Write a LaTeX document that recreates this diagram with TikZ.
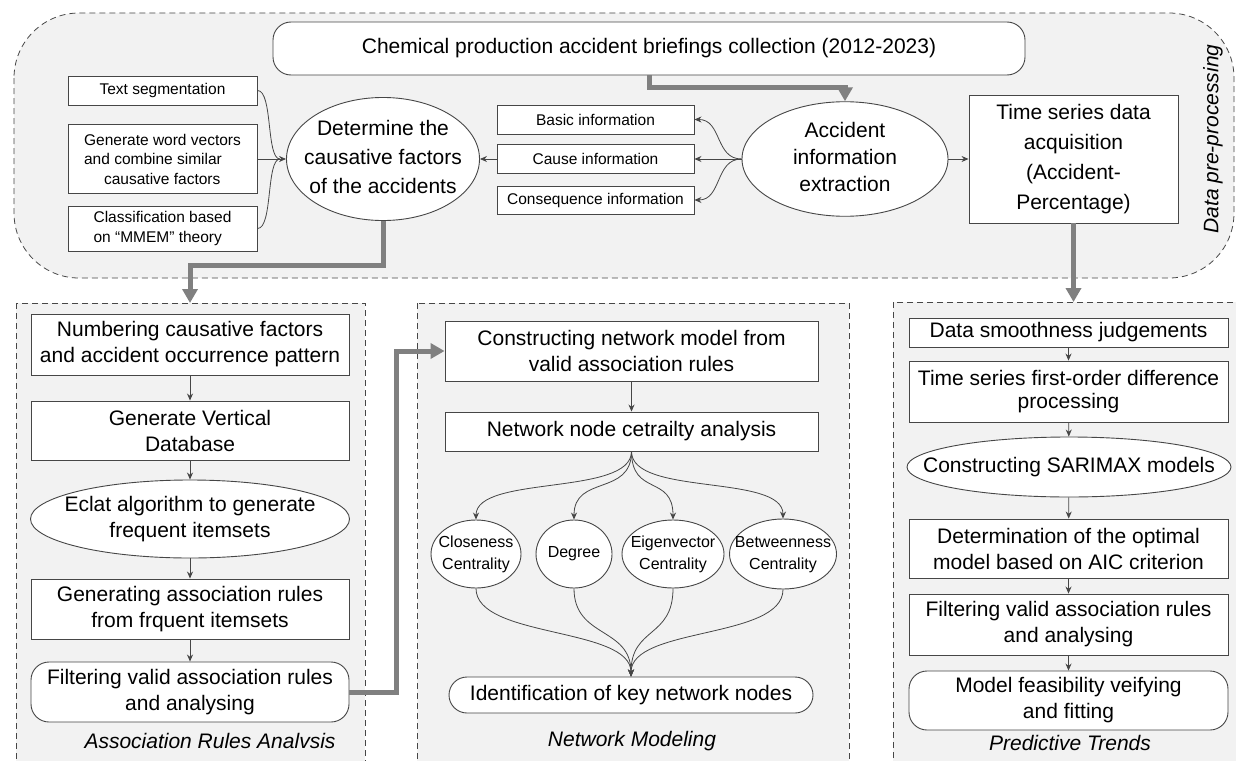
\documentclass[tikz,border=0pt]{standalone}
\usepackage{fontspec}
\setmainfont{Liberation Sans}
\usepackage{tikz}
\usetikzlibrary{shapes.geometric, arrows.meta, positioning, calc}
\definecolor{linegray}{RGB}{70,70,70}
\definecolor{arrowgray}{RGB}{128,128,128}
\definecolor{panelfill}{RGB}{242,242,242}
\newcommand{\bigfont}{\fontsize{21}{26}\selectfont}
\newcommand{\smallfont}{\fontsize{15.5}{19.5}\selectfont}
\newcommand{\centfont}{\fontsize{16}{22}\selectfont}
\newcommand{\elltext}[1]{\makebox[0pt]{\begin{tabular}{@{}c@{}}#1\end{tabular}}}

\begin{document}
\begin{tikzpicture}[x=1pt, y=-1pt,
    sz/.style 2 args={minimum width=#1pt, minimum height=#2pt},
    box/.style={rectangle, draw=linegray, fill=white, line width=0.9pt, inner sep=0pt, align=center, font=\bigfont},
    sbox/.style={box, font=\smallfont},
    rbox/.style={box, rounded corners=18pt},
    ell/.style={ellipse, draw=linegray, fill=white, line width=0.9pt, inner sep=0pt, font=\bigfont},
    panel/.style={draw=linegray, line width=0.8pt, dash pattern=on 6pt off 4pt, fill=panelfill},
    title/.style={font=\bigfont\itshape},
    flow/.style={-{Stealth[length=7pt, width=6pt]}, line width=0.8pt, draw=linegray},
    link/.style={line width=0.8pt, draw=linegray},
    bigarrow/.style={-{Triangle[length=14pt, width=15pt]}, line width=5pt, draw=arrowgray},
]
    \clip (0,0) rectangle (1236,760);

    % stage frames
    \draw[panel, rounded corners=65pt] (14,13) rectangle (1234,278);
    \draw[panel] (16,303) rectangle (365,790);
    \draw[panel] (417,303) rectangle (849,790);
    \draw[panel] (893,302) rectangle (1260,790);

    % data pre-processing
    \node[rbox, sz={752}{53}] (brief) at (649,48.5) {Chemical production accident briefings collection (2012-2023)};
    \node[sbox, sz={189}{29}] (seg) at (162.5,90.5) {Text segmentation};
    \node[sbox, sz={189}{69}, align=left] (vec) at (162.5,159) {Generate word vectors\\and combine similar\\\hspace{20pt}causative factors};
    \node[sbox, sz={189}{45}, align=left] (mmem) at (162.5,228.5) {Classification based\\on “MMEM” theory};
    \node[ell, sz={193}{118}, font=\fontsize{21}{29}\selectfont] (cause) at (383,159) {\elltext{Determine the\\causative factors\\of the accidents}};
    \node[sbox, sz={197}{29}] (basic) at (595.5,119.5) {Basic information};
    \node[sbox, sz={197}{29}] (causeinfo) at (595.5,159) {Cause information};
    \node[sbox, sz={197}{28}] (conseq) at (595.5,200) {Consequence information};
    \node[ell, sz={206}{90}, font=\fontsize{21}{27}\selectfont] (extract) at (845,159) {\elltext{Accident\\information\\extraction}};
    \node[box, sz={209}{128}, font=\fontsize{21}{30}\selectfont] (series) at (1073.5,159) {Time series data\\acquisition\\(Accident-\\Percentage)};
    \node[title, rotate=90] (pretitle) at (1213,139) {Data pre-processing};

    \coordinate (join) at (280,159);
    \draw[link] (seg.east) .. controls (273,90.5) and (266,159) .. (join);
    \draw[link] (mmem.east) .. controls (273,228.5) and (266,159) .. (join);
    \draw[flow] (vec.east) -- (cause.west);
    \draw[flow] (extract.west) .. controls (715,159) and (722,119.5) .. (basic.east);
    \draw[flow] (extract.west) -- (causeinfo.east);
    \draw[flow] (extract.west) .. controls (715,159) and (722,200) .. (conseq.east);
    \draw[flow] (causeinfo.west) -- (cause.east);
    \draw[flow] (extract.east) -- (series.west);

    \coordinate (assoctop) at (190,303);
    \coordinate (predtop) at (1073.5,302);
    \draw[bigarrow] (brief.south) -- ++(0,12) -| (extract.north);
    \draw[bigarrow] (cause.south) -- ++(0,45) -| (assoctop);
    \draw[bigarrow] (series.south) -- (predtop);

    % association rules
    \node[box, sz={318}{61}] (number) at (190,344.5) {Numbering causative factors\\and accident occurrence pattern};
    \node[box, sz={318}{59}] (vertical) at (190,430.5) {Generate Vertical\\Database};
    \node[ell, sz={319}{78}] (eclat) at (190,519) {\elltext{Eclat algorithm to generate\\frequent itemsets}};
    \node[box, sz={318}{60}] (rules) at (190,609) {Generating association rules\\from frquent itemsets};
    \node[rbox, sz={318}{60}] (filter) at (190,692) {Filtering valid association rules\\and analysing};
    \node[title] (assoctitle) at (210,741) {Association Rules Analvsis};
    \draw[flow] (number) -- (vertical);
    \draw[flow] (vertical) -- (eclat);
    \draw[flow] (eclat) -- (rules);
    \draw[flow] (rules) -- (filter);

    % network modeling
    \node[box, sz={373}{60}] (build) at (631.5,351) {Constructing network model from\\valid association rules};
    \node[box, sz={373}{39}] (centr) at (631.5,431.5) {Network node cetrailty analysis};
    \node[ell, sz={90}{68}, font=\centfont] (close) at (476,554) {\elltext{Closeness\\Centrality}};
    \node[ell, sz={76}{68}, font=\centfont] (degree) at (574,554) {Degree};
    \node[ell, sz={102}{68}, font=\centfont] (eigen) at (673,554) {\elltext{Eigenvector\\Centrality}};
    \node[ell, sz={107}{70}, font=\centfont] (betw) at (783,554) {\elltext{Betweenness\\Centrality}};
    \node[rbox, sz={364}{36}] (keynodes) at (631,695) {Identification of key network nodes};
    \node[title] (nettitle) at (632,741) {Network Modeling};
    \draw[bigarrow] (filter.east) -- ++(47,0) |- (build.west);
    \draw[flow] (build) -- (centr);
    \foreach \c in {close,degree,eigen,betw} {
        \draw[flow] (centr.south) .. controls ($(centr.south)+(0,45)$) and ($(\c.north)+(0,-45)$) .. (\c.north);
        \draw[flow] (\c.south) .. controls ($(\c.south)+(0,50)$) and ($(keynodes.north)+(0,-50)$) .. (keynodes.north);
    }

    % predictive trends
    \node[box, sz={319}{29}] (smooth) at (1068.5,332.5) {Data smoothness judgements};
    \node[box, sz={319}{61}, font=\fontsize{21}{23}\selectfont] (diff) at (1068.5,391.5) {Time series first-order difference\\processing};
    \node[ell, sz={324}{60}] (sarimax) at (1069,467) {\elltext{Constructing SARIMAX models}};
    \node[box, sz={319}{59}] (aic) at (1068.5,548.5) {Determination of the optimal\\model based on AIC criterion};
    \node[box, sz={319}{61}] (valid) at (1068.5,624.5) {Filtering valid association rules\\and analysing};
    \node[rbox, sz={319}{59}] (fit) at (1068.5,700.5) {Model feasibility veifying\\and fitting};
    \node[title] (predtitle) at (1070,743) {Predictive Trends};
    \draw[flow] (smooth) -- (diff);
    \draw[flow] (diff) -- (sarimax);
    \draw[flow] (sarimax) -- (aic);
    \draw[flow] (aic) -- (valid);
    \draw[flow] (valid) -- (fit);
\end{tikzpicture}
\end{document}
